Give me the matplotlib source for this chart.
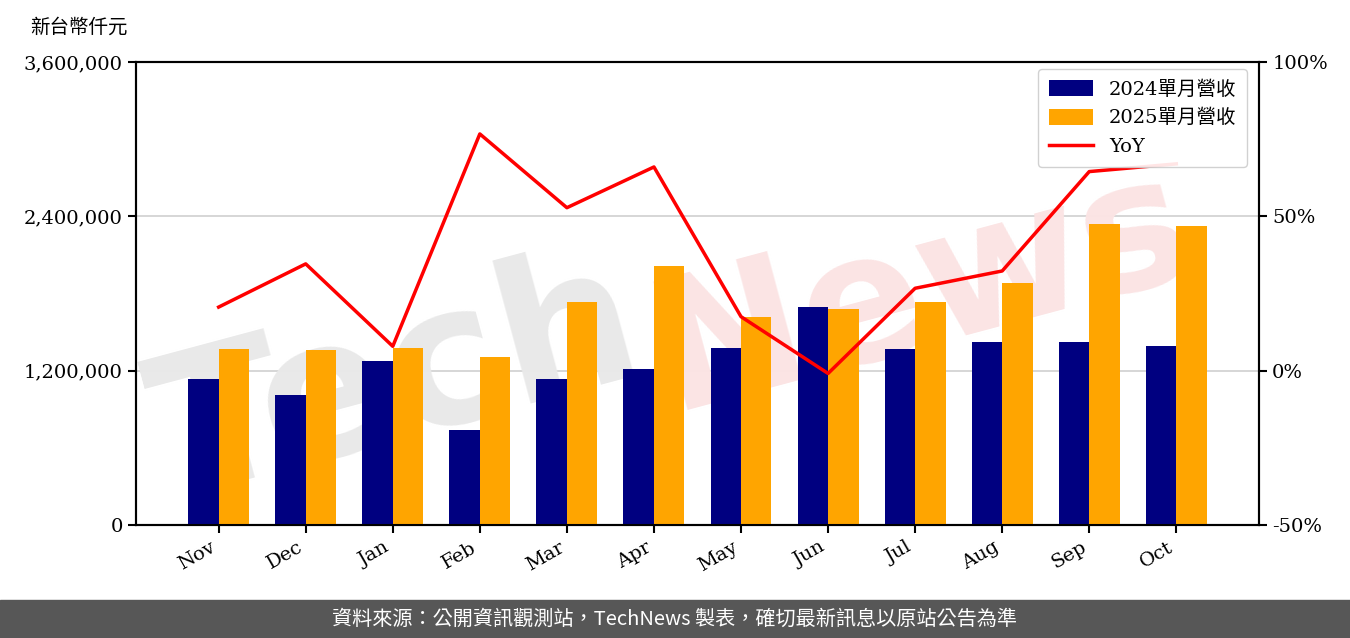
import numpy as np
import matplotlib
matplotlib.use("Agg")
import matplotlib.pyplot as plt
from matplotlib.ticker import FuncFormatter

plt.rcParams['font.family'] = ['DejaVu Serif', 'Noto Sans CJK TC']

# datos (miles de NT$)
meses = ["Nov", "Dec", "Jan", "Feb", "Mar", "Apr", "May", "Jun", "Jul", "Aug", "Sep", "Oct"]
ingresos_2024 = [1135000, 1011000, 1275000, 739000, 1135000, 1213000, 1376000, 1695000, 1369000, 1423000, 1423000, 1392000]
ingresos_2025 = [1369000, 1361000, 1376000, 1306000, 1734000, 2014000, 1617000, 1680000, 1734000, 1882000, 2341000, 2325000]
yoy = [20.6, 34.6, 7.9, 76.7, 52.8, 66.0, 17.5, -0.9, 26.7, 32.3, 64.5, 67.0]

fig = plt.figure(figsize=(13.5, 6.38), dpi=100)
ax = fig.add_axes([0.1007, 0.1771, 0.8319, 0.7257])

# marca de agua (detras de las barras)
ax.text(0.1, 0.22, "Tech", fontsize=140, fontweight='bold', family='DejaVu Sans',
        color='#e9e9e9', rotation=15, zorder=1, transform=fig.transFigure, clip_on=False)
ax.text(0.47, 0.36, "News", fontsize=130, fontweight='bold', family='DejaVu Sans',
        color='#fbe4e4', rotation=15, zorder=1, transform=fig.transFigure, clip_on=False)

x = np.arange(len(meses))
ancho = 0.35
b1 = ax.bar(x - ancho / 2, ingresos_2024, ancho, color='#000080', label='2024單月營收', zorder=3)
b2 = ax.bar(x + ancho / 2, ingresos_2025, ancho, color='#ffa500', label='2025單月營收', zorder=3)

ax.set_ylim(0, 3600000)
ax.set_yticks([0, 1200000, 2400000, 3600000])
ax.yaxis.set_major_formatter(FuncFormatter(lambda v, p: f"{int(v):,}"))
ax.set_xlim(-0.95, 11.95)
ax.set_xticks(x)
ax.set_xticklabels(meses, rotation=30, ha='right')
ax.tick_params(labelsize=14, length=6, width=1.5)
ax.grid(axis='y', color='#d0d0d0', linewidth=1.2, zorder=0)
ax.set_axisbelow(True)
for s in ax.spines.values():
    s.set_linewidth(1.5)

ax2 = ax.twinx()
l1, = ax2.plot(x, yoy, color='red', linewidth=2.5, label='YoY', zorder=4)
ax2.set_ylim(-50, 100)
ax2.set_yticks([-50, 0, 50, 100])
ax2.yaxis.set_major_formatter(FuncFormatter(lambda v, p: f"{int(v)}%"))
ax2.tick_params(labelsize=14, length=6, width=1.5)
for s in ax2.spines.values():
    s.set_linewidth(1.5)

ax2.legend([b1, b2, l1], ['2024單月營收', '2025單月營收', 'YoY'], loc='upper right',
           fontsize=14, framealpha=0.9, edgecolor='#cccccc', borderpad=0.55,
           handlelength=2.3, handleheight=0.9, labelspacing=0.5,
           bbox_to_anchor=(0.998, 1.005))

fig.text(0.022, 0.957, "新台幣仟元", fontsize=14, ha='left', va='center')

# pie de pagina
fig.patches.append(plt.Rectangle((0, 0), 1, 0.06, transform=fig.transFigure,
                                 color='#575757', zorder=0))
fig.text(0.5, 0.03, "資料來源：公開資訊觀測站，TechNews 製表，確切最新訊息以原站公告為準",
         color='white', fontsize=14.5, ha='center', va='center',
         family=['Noto Sans CJK TC', 'DejaVu Sans'])

fig.savefig("out.png", dpi=100)
